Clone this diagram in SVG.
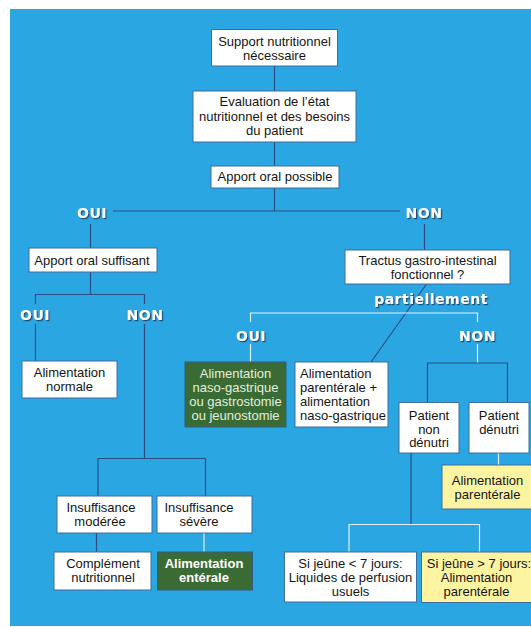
<svg xmlns="http://www.w3.org/2000/svg" width="531" height="627" viewBox="0 0 531 627">
<defs>
<style>
.bx{fill:#ffffff;stroke:#3f6d9e;stroke-width:1}
.gr{fill:#3b6b35;stroke:#2f5a86;stroke-width:1}
.ye{fill:#fdf4a2;stroke:#3f6d9e;stroke-width:1}
.t{font-family:"Liberation Sans",Arial,sans-serif;font-size:13px;fill:#151515;text-anchor:middle}
.tl{text-anchor:start}
.tg{fill:#e4efdc}
.tb{font-weight:bold;fill:#ffffff}
.dk{stroke:#2a4f85;stroke-width:1.2;fill:none}
.lt{stroke:#dff2fb;stroke-width:1.2;fill:none}
.lb{font-family:"DejaVu Sans",Verdana,sans-serif;font-weight:bold;font-size:14px;fill:#ffffff;text-anchor:middle;letter-spacing:0.5px;filter:url(#sh)}
</style>
<filter id="sh" x="-20%" y="-30%" width="140%" height="170%">
<feDropShadow dx="1.2" dy="1.2" stdDeviation="0.5" flood-color="#1d3a56" flood-opacity="0.85"/>
</filter>
</defs>
<rect x="10" y="9" width="521" height="617" fill="#2aa6e3"/>
<g id="connectors">
<line class="dk" x1="274.5" y1="66" x2="274.5" y2="91"/>
<line class="dk" x1="274.5" y1="142" x2="274.5" y2="166"/>
<polyline class="dk" points="274.5,188 274.5,211"/>
<line class="dk" x1="113" y1="211" x2="400" y2="211"/>
<line class="dk" x1="90.5" y1="224" x2="90.5" y2="248"/>
<line class="dk" x1="424.5" y1="224" x2="424.5" y2="250"/>
<polyline class="dk" points="90.5,272 90.5,294.5"/>
<polyline class="dk" points="35.5,304 35.5,294.5 144.5,294.5 144.5,304"/>
<line class="dk" x1="35.5" y1="324" x2="35.5" y2="361"/>
<line class="dk" x1="144.5" y1="324" x2="144.5" y2="458.5"/>
<polyline class="dk" points="98,496 98,458.5 205.5,458.5 205.5,496"/>
<line class="dk" x1="96.5" y1="533" x2="96.5" y2="552"/>
<line class="lt" x1="204" y1="533" x2="204" y2="552"/>
<line class="dk" x1="426.5" y1="284" x2="371" y2="362"/>
<polyline class="lt" points="250.5,322 250.5,313 477.5,313 477.5,322"/>
<line class="lt" x1="250.5" y1="344" x2="250.5" y2="362"/>
<line class="lt" x1="477.5" y1="344" x2="477.5" y2="363"/>
<polyline class="dk" points="427.5,402.5 427.5,363 507.5,363 507.5,402.5"/>
<line class="dk" x1="411" y1="453" x2="411" y2="524.5"/>
<polyline class="lt" points="349,552 349,524.5 479.5,524.5 479.5,552"/>
<line class="lt" x1="498.5" y1="453" x2="498.5" y2="465"/>
</g>
<g id="edge-labels">
<text class="lb" x="92" y="218">OUI</text>
<text class="lb" x="424" y="218">NON</text>
<text class="lb" x="35" y="319.5">OUI</text>
<text class="lb" x="145" y="319.5">NON</text>
<text class="lb" x="431" y="304">partiellement</text>
<text class="lb" x="251" y="341">OUI</text>
<text class="lb" x="477.5" y="341">NON</text>
</g>
<g id="n-support">
<rect class="bx" x="211.5" y="29.5" width="126" height="36.5"/>
<text class="t" x="274.5" y="46">Support nutritionnel</text>
<text class="t" x="274.5" y="59.5">nécessaire</text>
</g>
<g id="n-evaluation">
<rect class="bx" x="193" y="91" width="163" height="51"/>
<text class="t" x="274.5" y="106">Evaluation de l’état</text>
<text class="t" x="274.5" y="120.5">nutritionnel et des besoins</text>
<text class="t" x="274.5" y="135">du patient</text>
</g>
<g id="n-oral-possible">
<rect class="bx" x="211" y="166" width="128" height="22"/>
<text class="t" x="275" y="181">Apport oral possible</text>
</g>
<g id="n-oral-suffisant">
<rect class="bx" x="29" y="248" width="128" height="24"/>
<text class="t" x="92" y="264.5">Apport oral suffisant</text>
</g>
<g id="n-alim-normale">
<rect class="bx" x="22" y="361" width="95" height="37"/>
<text class="t" x="69.5" y="377">Alimentation</text>
<text class="t" x="69.5" y="390.5">normale</text>
</g>
<g id="n-insuf-moderee">
<rect class="bx" x="57" y="496" width="95" height="37"/>
<text class="t" x="101" y="512">Insuffisance</text>
<text class="t" x="100" y="525.5">modérée</text>
</g>
<g id="n-insuf-severe">
<rect class="bx" x="157" y="496" width="95" height="37"/>
<text class="t" x="199" y="512">Insuffisance</text>
<text class="t" x="199" y="525.5">sévère</text>
</g>
<g id="n-complement">
<rect class="bx" x="54" y="552" width="97" height="38"/>
<text class="t" x="103" y="568">Complément</text>
<text class="t" x="103" y="581.5">nutritionnel</text>
</g>
<g id="n-enterale">
<rect class="gr" x="157.5" y="552" width="95" height="38"/>
<text class="t tb" x="204" y="568">Alimentation</text>
<text class="t tb" x="204" y="581.5">entérale</text>
</g>
<g id="n-tractus">
<rect class="bx" x="345" y="250" width="165" height="34"/>
<text class="t" x="427.5" y="265">Tractus gastro-intestinal</text>
<text class="t" x="427.5" y="279">fonctionnel ?</text>
</g>
<g id="n-naso">
<rect class="gr" x="185" y="362" width="101" height="65"/>
<text class="t tg" x="235.5" y="378">Alimentation</text>
<text class="t tg" x="235.5" y="392">naso-gastrique</text>
<text class="t tg" x="235.5" y="406">ou gastrostomie</text>
<text class="t tg" x="235.5" y="420">ou jeunostomie</text>
</g>
<g id="n-parent-naso">
<rect class="bx" x="295" y="362" width="93" height="65"/>
<text class="t tl" x="300" y="378">Alimentation</text>
<text class="t tl" x="300" y="392">parentérale +</text>
<text class="t tl" x="300" y="406">alimentation</text>
<text class="t tl" x="300" y="420">naso-gastrique</text>
</g>
<g id="n-non-denutri">
<rect class="bx" x="399" y="402.5" width="60" height="50.5"/>
<text class="t" x="429" y="419.5">Patient</text>
<text class="t" x="429" y="433.5">non</text>
<text class="t" x="429" y="447">dénutri</text>
</g>
<g id="n-denutri">
<rect class="bx" x="469" y="402.5" width="60" height="50.5"/>
<text class="t" x="499" y="419.5">Patient</text>
<text class="t" x="499" y="433.5">dénutri</text>
</g>
<g id="n-parenterale">
<rect class="ye" x="442" y="465" width="100" height="44"/>
<text class="t" x="487.5" y="484.5">Alimentation</text>
<text class="t" x="487.5" y="498.5">parentérale</text>
</g>
<g id="n-jeune-court">
<rect class="bx" x="284.5" y="552" width="132" height="50"/>
<text class="t" x="350.5" y="568">Si jeûne &lt; 7 jours:</text>
<text class="t" x="350.5" y="582">Liquides de perfusion</text>
<text class="t" x="350.5" y="596">usuels</text>
</g>
<g id="n-jeune-long">
<rect class="ye" x="421.5" y="552" width="120" height="50.5"/>
<text class="t" x="479" y="568">Si jeûne &gt; 7 jours:</text>
<text class="t" x="476.5" y="582">Alimentation</text>
<text class="t" x="476.5" y="596">parentérale</text>
</g>
</svg>
